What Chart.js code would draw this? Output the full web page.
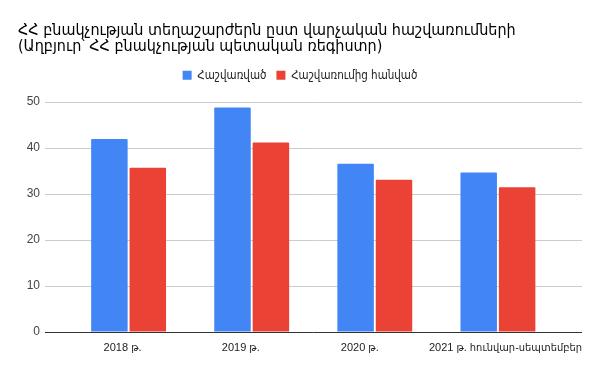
<!DOCTYPE html>
<html><head><meta charset="utf-8">
<script src="https://cdn.jsdelivr.net/npm/chart.js@4/dist/chart.umd.min.js"></script>
<style>html,body{margin:0;padding:0;background:#fff}#w{width:600px;height:371px}</style>
</head><body><div id="w"><canvas id="c"></canvas></div>
<script>
const categories = ["2018 թ.", "2019 թ.", "2020 թ.", "2021 թ. հունվար-սեպտեմբեր"];
const registered = [42.0, 48.8, 36.6, 34.7];
const deregistered = [35.7, 41.2, 33.1, 31.5];
const seriesNames = ["Հաշվառված", "Հաշվառումից հանված"];
const titleLines = ["ՀՀ բնակչության տեղաշարժերն ըստ վարչական հաշվառումների", "(Աղբյուր՝ ՀՀ բնակչության պետական ռեգիստր)"];
const yTicks = [0, 10, 20, 30, 40, 50];

const FONT = "Arial, 'Liberation Sans', 'DejaVu Sans Condensed', 'DejaVu Sans', sans-serif";
const TFONT = "'DejaVu Sans Condensed', 'DejaVu Sans', sans-serif";
const labelShift = [-0.049, -0.089, -0.122, null];
const XMIN = -0.679, XMAX = 3.683;

new Chart(document.getElementById('c'), {
  type: 'bar',
  data: {
    datasets: [
      { label: seriesNames[0], data: registered.map((v, i) => ({x: i, y: v})), backgroundColor: '#4285F4', borderRadius: 1, borderSkipped: 'bottom' },
      { label: seriesNames[1], data: deregistered.map((v, i) => ({x: i, y: v})), backgroundColor: '#EA4335', borderRadius: 1, borderSkipped: 'bottom' }
    ]
  },
  options: {
    responsive: true, maintainAspectRatio: false, animation: false,
    devicePixelRatio: 1,
    categoryPercentage: 0.65, barPercentage: 0.95,
    layout: { padding: { left: 18, right: 18, top: 22, bottom: 0 } },
    plugins: {
      title: { display: true, text: titleLines, align: 'start', color: '#000',
        font: { family: TFONT, size: 16, weight: 'normal', lineHeight: 1.05 }, padding: { top: 0, bottom: 4 } },
      legend: { display: true, position: 'top', align: 'center',
        labels: { boxWidth: 9, boxHeight: 9, color: '#222', font: { family: FONT, size: 11.5 }, padding: 10 } },
      tooltip: { enabled: false }
    },
    scales: {
      x: { type: 'linear', min: XMIN, max: XMAX, offset: false,
        grid: { display: false, drawTicks: false, offset: false },
        border: { display: false },
        ticks: { color: '#222', font: { family: FONT, size: 11 }, padding: 9, maxRotation: 0, autoSkip: false,
          callback: (v, i) => categories[i] },
        afterBuildTicks: s => { s.ticks = categories.map((c, i) => ({ value: labelShift[i] === null ? i : i + labelShift[i] })); },
        afterFit: s => { s.height = 39; }
      },
      y: { min: 0, max: 50,
        grid: { color: ctx => ctx.tick.value === 0 ? '#333' : '#ccc', drawTicks: false, lineWidth: 1 },
        border: { display: false },
        ticks: { color: '#444', font: { family: FONT, size: 12 }, padding: 5, stepSize: 10 },
        afterBuildTicks: s => { s.ticks = yTicks.map(v => ({ value: v })); },
        afterFit: s => { s.width = 27; }
      }
    }
  },
  plugins: [{
    id: 'legendGap',
    beforeLayout(chart) {
      const lg = chart.legend;
      if (lg && !lg._gapWrapped) {
        const orig = lg.fit;
        lg.fit = function () { orig.call(this); this.height += 11; };
        lg._gapWrapped = true;
      }
    }
  }, {
    id: 'lastLabelFit',
    afterLayout(chart) {
      const s = chart.scales.x;
      const ctx = chart.ctx;
      ctx.save();
      ctx.font = "11px " + FONT;
      const w = ctx.measureText(categories[categories.length - 1]).width;
      ctx.restore();
      const centerPx = chart.chartArea.right - w / 2;
      s.ticks[s.ticks.length - 1].value = s.getValueForPixel(centerPx);
    }
  }]
});
</script></body></html>
